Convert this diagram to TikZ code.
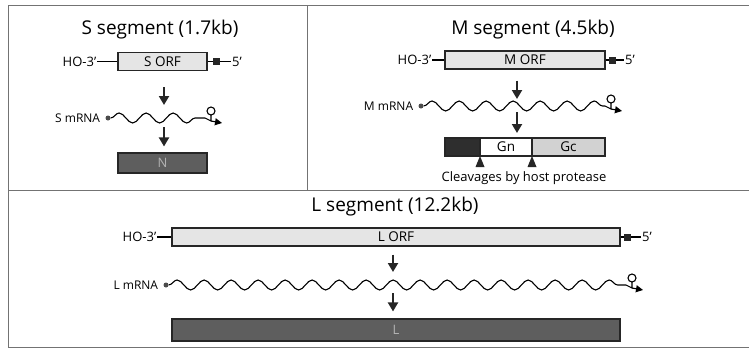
\documentclass[tikz,border=0pt]{standalone}
\usepackage{fontspec}
\setmainfont{Open Sans}
\usetikzlibrary{positioning,arrows.meta,decorations.pathmorphing}

\tikzset{
	ttl/.style={font=\fontsize{19}{21}\selectfont},
	lbl/.style={inner sep=1pt, font=\fontsize{13}{14}\selectfont},
	small/.style={inner sep=1pt, font=\fontsize{12}{13}\selectfont},
	cleave/.style={inner sep=1pt, font=\fontsize{13}{15}\selectfont},
	orf/.style={draw=black!85, line width=1.1pt, fill=gray!20, inner sep=0pt, font=\fontsize{13.5}{14}\selectfont},
	prot/.style={draw=black!85, line width=1.1pt, fill=black!63, inner sep=0pt, text=black!30, font=\fontsize{13}{14}\selectfont},
	seg/.style={draw=black!85, line width=1.1pt, inner sep=0pt, outer sep=0pt, minimum height=18pt, font=\fontsize{13.5}{14}\selectfont},
	sq/.style={fill=black!85, minimum size=7pt, inner sep=0pt},
	capdot/.style={circle, fill=black!70, minimum size=5pt, inner sep=0pt},
	down/.style={-{Triangle[width=10pt,length=9pt]}, line width=2pt, black!85},
	wave/.style={line width=1.1pt, decorate, decoration={snake, segment length=27pt, amplitude=5pt}},
	frame/.style={black!55, line width=0.9pt}
}

\begin{document}
\begin{tikzpicture}[x=1pt,y=-1pt]
	\useasboundingbox (0,0) rectangle (749,349);
	% panel frame
	\draw[frame] (749,5) -- (8,5) -- (8,347) -- (749,347);
	\draw[frame] (307,5) -- (307,190);
	\draw[frame] (8,190) -- (749,190);

	% titles
	\node[ttl] (stitle) at (160,30) {S segment (1.7kb)};
	\node[ttl] (mtitle) at (533,30) {M segment (4.5kb)};
	\node[ttl] (ltitle) at (395,207) {L segment (12.2kb)};

	% genome segments with ORFs
	\node[orf, minimum width=89pt, minimum height=18pt] (sorf) at (162.5,61.5) {S ORF};
	\node[orf, minimum width=160pt, minimum height=18pt] (morf) at (525,60) {M ORF};
	\node[orf, minimum width=448pt, minimum height=18pt] (lorf) at (396,237) {L ORF};
	\foreach \nm/\hgap/\sgap/\fgap in {s/20pt/5pt/11pt, m/12pt/3pt/8pt, l/14pt/3pt/10pt} {
		\node[lbl, left=\hgap of \nm orf] (\nm ho) {HO-3’};
		\node[sq, right=\sgap of \nm orf] (\nm sq) {};
		\node[lbl, right=\fgap of \nm sq] (\nm five) {5’};
		\draw[line width=1.1pt] (\nm ho) -- (\nm orf);
		\draw[line width=1.1pt] (\nm orf) -- (\nm sq) -- (\nm five);
	}

	% mRNAs
	\foreach \nm/\lab/\xa/\xb/\xm/\y in {s/S/108/205/164/118, m/M/421/605/517/106, l/L/166/626/393/285} {
		\node[capdot] (\nm cap) at (\xa,\y) {};
		\node[small, left=4pt of \nm cap] (\nm lbl) {\lab{} mRNA};
		\coordinate (\nm end) at (\xb,\y);
		\coordinate (\nm mid) at (\xm,\y);
		\draw[wave] (\nm cap) -- (\nm end);
		% hairpin and tail
		\draw[line width=1.1pt] (\nm end) -- ++(6,3) coordinate (\nm stem) -- ++(0,-6) ++(0,-4) circle (4);
		\draw[line width=1.1pt, -{Triangle[width=7pt,length=7pt]}] (\nm stem) -- ++(11,2);
	}

	% proteins
	\node[prot, minimum width=89pt, minimum height=20pt] (sprot) at (162.5,163) {N};
	\node[prot, minimum width=448pt, minimum height=22pt] (lprot) at (396,330) {L};
	\node[seg, fill=black!82, minimum width=35pt, anchor=north west] (mpre) at (445,138) {};
	\node[seg, fill=white, minimum width=52pt, right=0pt of mpre] (mgn) {Gn};
	\node[seg, fill=gray!35, minimum width=73pt, right=0pt of mgn] (mgc) {Gc};
	\foreach \cut in {mgn.south west, mgn.south east}
		\fill[black!85] (\cut) -- ++(4.5,11) -- ++(-9,0) -- cycle;
	\node[cleave] (cleave) at (524,178) {Cleavages by host protease};

	% expression arrows
	\foreach \nm/\a/\b/\c/\d/\p in {s/16/13/9/6/sprot, m/11/7/6/5/mgn, l/8/13/8/7/lprot} {
		\draw[down, shorten <=\a pt, shorten >=\b pt] (\nm orf.south -| \nm mid) -- (\nm mid);
		\draw[down, shorten <=\c pt, shorten >=\d pt] (\nm mid) -- (\p.north -| \nm mid);
	}
\end{tikzpicture}
\end{document}
